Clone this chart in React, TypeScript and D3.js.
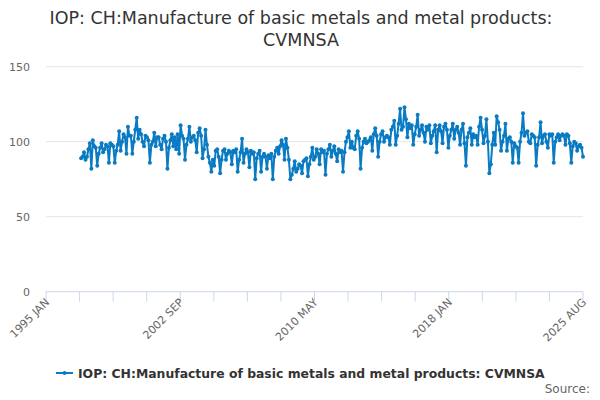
import React from "react";
import * as d3 from "d3";

// Monthly index values, Jan 1997 .. Aug 2025
const values: number[] = [
  // 1997
  89, 90, 93, 88, 90, 95, 99, 82, 101, 97, 96, 84,
  // 1998
  92, 96, 99, 93, 95, 98, 97, 86, 99, 98, 97, 86,
  // 1999
  94, 98, 107, 94, 100, 105, 103, 92, 110, 104, 104, 92,
  // 2000
  100, 108, 116, 102, 108, 105, 100, 97, 104, 103, 101, 86,
  // 2001
  98, 100, 106, 97, 103, 103, 98, 95, 102, 104, 100, 82,
  // 2002
  96, 101, 105, 97, 103, 95, 105, 92, 111, 104, 102, 88,
  // 2003
  98, 102, 110, 100, 103, 104, 101, 93, 106, 109, 104, 89,
  // 2004
  95, 108, 98, 90, 86, 80, 88, 84, 94, 95, 90, 79,
  // 2005
  88, 94, 95, 88, 92, 94, 93, 85, 94, 93, 95, 80,
  // 2006
  88, 93, 102, 86, 92, 95, 93, 83, 94, 92, 93, 75,
  // 2007
  89, 92, 94, 80, 90, 92, 90, 82, 91, 89, 92, 75,
  // 2008
  90, 94, 96, 92, 97, 101, 98, 88, 102, 96, 88, 75,
  // 2009
  78, 82, 87, 80, 82, 85, 84, 79, 87, 88, 89, 77,
  // 2010
  85, 90, 96, 88, 90, 95, 92, 85, 95, 93, 94, 78,
  // 2011
  92, 95, 98, 90, 94, 97, 92, 87, 95, 93, 94, 80,
  // 2012
  93, 100, 103, 107, 96, 100, 96, 95, 104, 107, 102, 82,
  // 2013
  96, 100, 102, 99, 100, 101, 103, 94, 105, 109, 104, 90,
  // 2014
  100, 105, 107, 100, 103, 104, 103, 98, 108, 110, 114, 98,
  // 2015
  104, 112, 122, 108, 110, 123, 115, 103, 112, 109, 111, 98,
  // 2016
  105, 110, 118, 104, 108, 111, 106, 100, 110, 108, 111, 99,
  // 2017
  104, 107, 111, 93, 108, 111, 107, 99, 110, 112, 108, 96,
  // 2018
  104, 108, 112, 102, 108, 110, 106, 98, 108, 112, 99, 84,
  // 2019
  103, 106, 109, 98, 105, 103, 104, 98, 110, 116, 108, 99,
  // 2020
  104, 115, 100, 79, 85, 98, 106, 98, 117, 113, 108, 94,
  // 2021
  100, 104, 112, 94, 102, 103, 100, 86, 99, 97, 96, 86,
  // 2022
  100, 106, 119, 104, 106, 107, 100, 99, 105, 104, 103, 84,
  // 2023
  98, 103, 113, 99, 104, 105, 100, 96, 105, 104, 105, 86,
  // 2024
  100, 103, 105, 101, 104, 105, 104, 98, 105, 104, 99, 86,
  // 2025
  97, 100, 99, 94, 97, 98, 96, 90,
];

const dataStartOffset = 24; // data begins Jan 1997 (months after Jan 1995)
const axisMonths = 367; // Jan 1995 .. Aug 2025
const tickCount = 17;
const tickLabels = ["1995 JAN", "2002 SEP", "2010 MAY", "2018 JAN", "2025 AUG"];
const yTicks = [0, 50, 100, 150];

const titleLines = [
  "IOP: CH:Manufacture of basic metals and metal products:",
  "CVMNSA",
];
const legendText = "IOP: CH:Manufacture of basic metals and metal products: CVMNSA";

const FONT = "'DejaVu Sans', Verdana, sans-serif";
const COLOR = "#0a7bc2";

export default function App() {
  const W = 600;
  const H = 400;
  const x = d3.scaleLinear().domain([0, axisMonths]).range([46, 583]);
  const y = d3.scaleLinear().domain([0, 150]).range([291.7, 66.7]);

  const pts = values.map((v, i) => [x(dataStartOffset + i), y(v)] as [number, number]);
  const line = d3.line<[number, number]>().x((d) => d[0]).y((d) => d[1]);

  const ticks = d3.range(tickCount).map((i) => (i * axisMonths) / (tickCount - 1));

  return (
    <svg
      width={W}
      height={H}
      style={{ position: "absolute", left: 0, top: 0, background: "#fff" }}
      fontFamily={FONT}
    >
      <rect x={0} y={0} width={W} height={H} fill="#fff" />
      {/* title */}
      <text x={301} y={24} textAnchor="middle" fontSize={17.5} fill="#333">
        {titleLines[0]}
      </text>
      <text x={301} y={46} textAnchor="middle" fontSize={17.5} fill="#333">
        {titleLines[1]}
      </text>

      {/* grid + y labels */}
      {yTicks.map((t) => (
        <g key={t}>
          {t !== 0 && (
            <line x1={46} x2={583} y1={y(t)} y2={y(t)} stroke="#e6e6e6" strokeWidth={1} />
          )}
          <text x={30} y={y(t) + 4} textAnchor="end" fontSize={11} fill="#666">
            {t}
          </text>
        </g>
      ))}

      {/* x axis */}
      <line x1={46} x2={583} y1={291.7} y2={291.7} stroke="#ccd6eb" strokeWidth={1} />
      {ticks.map((t, i) => (
        <line key={i} x1={x(t)} x2={x(t)} y1={291.7} y2={301.7} stroke="#ccd6eb" strokeWidth={1} />
      ))}
      {ticks.map((t, i) =>
        i % 4 === 0 ? (
          <text
            key={"l" + i}
            transform={`translate(${x(t) + 4},${303}) rotate(-45)`}
            textAnchor="end"
            fontSize={11}
            fill="#666"
          >
            {tickLabels[i / 4]}
          </text>
        ) : null
      )}

      {/* series */}
      <path d={line(pts) || ""} fill="none" stroke={COLOR} strokeWidth={2} strokeLinejoin="round" />
      {pts.map((p, i) => (
        <circle key={i} cx={p[0]} cy={p[1]} r={2} fill={COLOR} />
      ))}

      {/* legend */}
      <line x1={56} x2={73} y1={373} y2={373} stroke={COLOR} strokeWidth={2} />
      <circle cx={64.5} cy={373} r={2} fill={COLOR} />
      <text x={78} y={377.5} fontSize={12.4} fontWeight="bold" fill="#333">
        {legendText}
      </text>

      {/* credits */}
      <text x={590} y={393} textAnchor="end" fontSize={12} fill="#666">
        Source:
      </text>
    </svg>
  );
}
